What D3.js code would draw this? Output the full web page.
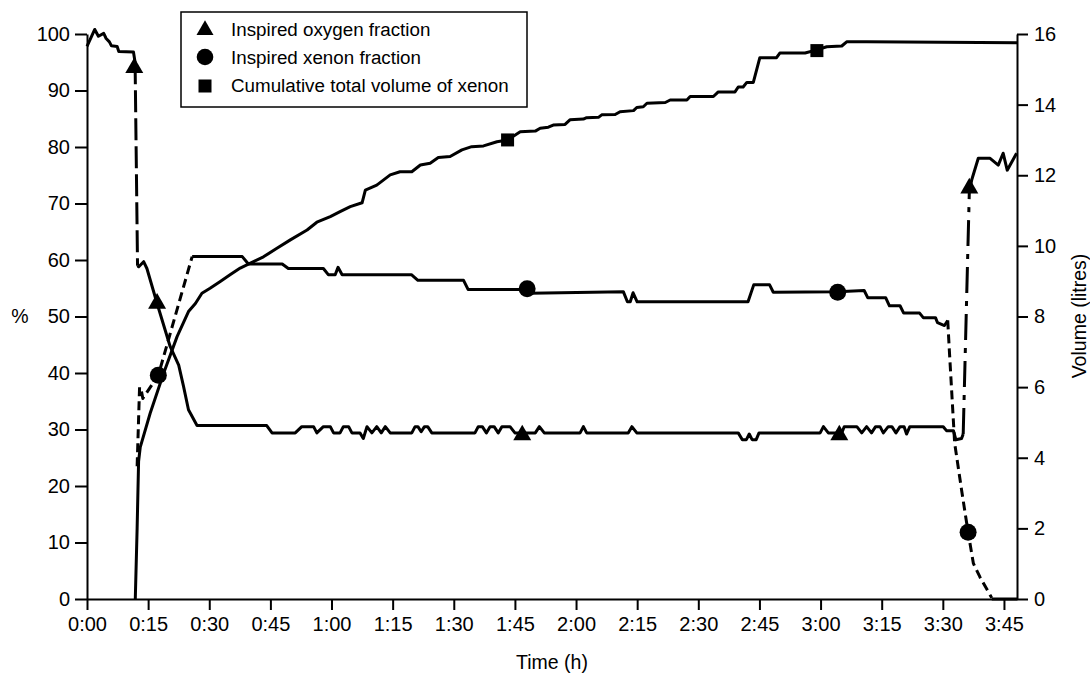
<!DOCTYPE html>
<html>
<head>
<meta charset="utf-8">
<script src="https://cdn.jsdelivr.net/npm/d3@7"></script>
<style>
  body { margin: 0; background: #fff; }
  svg text { font-family: "Liberation Sans", Arial, Helvetica, sans-serif; fill: #000; }
</style>
</head>
<body>
<svg id="chart"></svg>
<script>
// Eje de tiempo (minutos)
const timeTicks = [0, 15, 30, 45, 60, 75, 90, 105, 120, 135, 150, 165, 180, 195, 210, 225];
const percentTicks = [0, 10, 20, 30, 40, 50, 60, 70, 80, 90, 100];
const volumeTicks = [0, 2, 4, 6, 8, 10, 12, 14, 16];

// Fracción inspirada de oxígeno (%), por tramos [minuto, %]
const oxygenStart = [[0, 97.8], [1.9, 100.8], [2.8, 99.6], [4.1, 100.1], [4.7, 99.2], [5.5, 98.6], [6, 97.9],
  [7.4, 97.8], [7.8, 96.9], [11.4, 96.8], [11.8, 95]];
const oxygenDrop = [[11.8, 95], [12.4, 59]];
const oxygenMain = [[12.4, 59], [12.7, 58.8], [13.9, 59.7], [14.7, 58.5], [17.2, 52.3], [20.4, 44.7], [22.5, 41.4],
  [23.7, 37.6], [24.9, 33.5], [27, 30.7], [44.1, 30.7], [45.4, 29.4], [51.1, 29.4], [52.7, 30.5], [55.6, 30.5],
  [56.4, 29.4], [58, 30.5], [59.7, 30.5], [60.5, 29.4], [62.1, 29.4], [62.9, 30.5], [64.2, 30.5], [65, 29.4],
  [67, 29.4], [67.8, 28.4], [68.7, 30.5], [69.9, 29.4], [71.1, 30.5], [72.2, 29.4], [73.2, 30.5], [74.4, 29.4],
  [79.7, 29.4], [80.5, 30.5], [81.2, 30.5], [82, 29.6], [82.8, 30.5], [83.6, 30.5], [84.6, 29.4], [95.2, 29.4],
  [96, 30.5], [97, 30.5], [98, 29.4], [98.9, 30.5], [99.9, 30.5], [100.9, 29.4], [101.8, 30.5], [103.8, 30.5],
  [105, 29.4], [110, 29.4], [111, 30.5], [112.2, 29.4], [121, 29.4], [121.8, 30.5], [122.6, 29.4], [132.8, 29.4],
  [133.7, 30.5], [134.9, 29.4], [159.8, 29.4], [160.8, 28.2], [161.8, 28.2], [162.5, 29.2], [163.2, 28.2],
  [164.2, 28.2], [164.9, 29.4], [179.9, 29.4], [180.7, 30.5], [181.9, 29.4], [185.2, 29.4], [185.8, 30.5],
  [188.9, 30.5], [190.1, 29.4], [191.3, 30.5], [192.5, 29.4], [193.5, 30.5], [194.6, 30.5], [195.4, 29.4],
  [196.6, 30.5], [197.5, 30.5], [198.5, 29.4], [199.5, 30.5], [200.5, 30.5], [201.1, 29.2], [201.9, 30.5],
  [210.1, 30.5], [210.9, 29.8], [212.6, 29.8], [213.2, 28.2], [214.6, 28.4], [215, 29.2]];
const oxygenRise = [[215, 29.2], [216.5, 72]];
const oxygenEnd = [[216.5, 72], [217.1, 74.2], [218.7, 78], [221.6, 78], [223.6, 76.8], [224.8, 78.9],
  [225.8, 75.9], [228.1, 78.9]];
const oxygenMarkers = [[11.6, 94], [17.2, 52.3], [106.8, 29], [184.6, 29], [216.5, 72.7]];

// Fracción inspirada de xenón (%)
const xenonRise = [[12.3, 23.5], [12.9, 37.5], [13.3, 37], [13.7, 35.5], [17.5, 39.6], [25.8, 60.6]];
const xenonMain = [[25.8, 60.6], [38.1, 60.6], [39.6, 59.3], [47.9, 59.3], [49.4, 58.5], [58, 58.5], [59.2, 57.4],
  [60.9, 57.4], [61.6, 58.7], [62.6, 57.4], [79.6, 57.4], [81.2, 56.4], [92.4, 56.4], [93.5, 54.8], [107.9, 54.8],
  [108.7, 54.1], [131.6, 54.4], [132.6, 52.6], [133.3, 52.6], [134, 54.2], [135, 52.6], [162.2, 52.6],
  [163.6, 55.6], [167.5, 55.6], [168.4, 54.3], [184.2, 54.4], [190.7, 54.6], [191.6, 53.3], [196, 53.3],
  [196.9, 51.9], [199.5, 51.9], [200.4, 50.6], [204.3, 50.6], [205.2, 49.8], [208.2, 49.8], [208.7, 48.9],
  [210.4, 48.4], [211.2, 49.3]];
const xenonFall = [[211.2, 49.3], [211.6, 44], [212.9, 27.6], [214.6, 19.3], [216.2, 11.8], [217.5, 6.3],
  [219.1, 3.9], [222, 0.2]];
const xenonEnd = [[222, 0], [228.2, 0]];
const xenonMarkers = [[17.5, 39.6], [108, 54.9], [184.2, 54.3], [216.2, 11.8]];

// Volumen total acumulado de xenón (litros)
const volumeLine = [[11.85, 0], [12.3, 2.0], [12.66, 3.9], [13.07, 4.3], [15.5, 5.26], [18.8, 6.39], [22.1, 7.43],
  [24.9, 8.14], [26.6, 8.37], [28.2, 8.66], [30.2, 8.8], [32.7, 8.99], [35.1, 9.18], [37.6, 9.37], [40.1, 9.51],
  [43.3, 9.69], [46.6, 9.93], [49.9, 10.17], [54, 10.45], [56.4, 10.67], [59.7, 10.83], [62.1, 10.97],
  [64.6, 11.11], [67.5, 11.22], [68.3, 11.58], [71.1, 11.72], [74.4, 12.01], [76.8, 12.1], [79.7, 12.1],
  [81.8, 12.29], [84.2, 12.34], [86.2, 12.5], [89.1, 12.53], [92, 12.72], [94.4, 12.81], [97.3, 12.83],
  [100.6, 12.95], [103.2, 13.0], [106.3, 13.23], [110, 13.25], [111.2, 13.33], [113.2, 13.36], [114.4, 13.42],
  [117.3, 13.44], [118.5, 13.57], [121.8, 13.59], [122.6, 13.63], [125.5, 13.64], [126.3, 13.71], [129.6, 13.72],
  [130.8, 13.8], [134.1, 13.83], [134.9, 13.92], [136.5, 13.94], [137.4, 14.04], [141.9, 14.06], [143.1, 14.13],
  [147.2, 14.13], [148, 14.23], [153.7, 14.23], [154.9, 14.36], [159, 14.36], [159.8, 14.5], [161, 14.5],
  [161.9, 14.63], [163.5, 14.63], [165.1, 15.33], [169.2, 15.33], [170, 15.46], [176.2, 15.46], [179.1, 15.55],
  [181.5, 15.64], [185.2, 15.66], [186.4, 15.78], [191.3, 15.78], [228.2, 15.75]];
const volumeMarkers = [[103.2, 13.0], [179.1, 15.53]];

const legendLabels = ["Inspired oxygen fraction", "Inspired xenon fraction", "Cumulative total volume of xenon"];

// Dimensiones
const width = 1090;
const height = 673;
const margin = { top: 34, right: 73, bottom: 74, left: 87 };

const svg = d3.select("#chart")
    .attr("width", width)
    .attr("height", height);

const x = d3.scaleLinear().domain([0, 228.2]).range([margin.left, width - margin.right]);
const yPct = d3.scaleLinear().domain([0, 100]).range([height - margin.bottom, margin.top]);
const yVol = d3.scaleLinear().domain([0, 16]).range([height - margin.bottom, margin.top]);

const fmtTime = d => Math.floor(d / 60) + ":" + String(d % 60).padStart(2, "0");

// Ejes
function styleAxis(g) {
    g.selectAll("path, line").attr("stroke", "#000").attr("stroke-width", 2);
    g.selectAll("text").attr("font-size", 20).attr("fill", "#000")
        .attr("font-family", "'Liberation Sans', Arial, sans-serif");
}

svg.append("g")
    .attr("transform", `translate(0,${height - margin.bottom})`)
    .call(d3.axisBottom(x).tickValues(timeTicks).tickFormat(fmtTime).tickSize(11).tickSizeOuter(0).tickPadding(7))
    .call(styleAxis);

svg.append("g")
    .attr("transform", `translate(${margin.left},0)`)
    .call(d3.axisLeft(yPct).tickValues(percentTicks).tickSize(12).tickSizeOuter(0).tickPadding(5))
    .call(styleAxis);

svg.append("g")
    .attr("transform", `translate(${width - margin.right},0)`)
    .call(d3.axisRight(yVol).tickValues(volumeTicks).tickSize(11).tickSizeOuter(0).tickPadding(6))
    .call(styleAxis);

// Títulos de ejes
svg.append("text")
    .attr("x", (x.range()[0] + x.range()[1]) / 2)
    .attr("y", 669)
    .attr("text-anchor", "middle")
    .attr("font-size", 19.5)
    .text("Time (h)");

svg.append("text")
    .attr("x", 20)
    .attr("y", 323)
    .attr("text-anchor", "middle")
    .attr("font-size", 19.5)
    .text("%");

svg.append("text")
    .attr("transform", "translate(1086,316) rotate(-90)")
    .attr("text-anchor", "middle")
    .attr("font-size", 19.5)
    .text("Volume (litres)");

// Líneas
const linePct = d3.line().x(d => x(d[0])).y(d => yPct(d[1]));
const lineVol = d3.line().x(d => x(d[0])).y(d => yVol(d[1]));

const segments = [
    { data: oxygenStart, line: linePct, dash: null },
    { data: oxygenDrop, line: linePct, dash: "22,6" },
    { data: oxygenMain, line: linePct, dash: null },
    { data: oxygenRise, line: linePct, dash: "26,8,5,8" },
    { data: oxygenEnd, line: linePct, dash: null },
    { data: xenonRise, line: linePct, dash: "9,5" },
    { data: xenonMain, line: linePct, dash: null },
    { data: xenonFall, line: linePct, dash: "9,5" },
    { data: xenonEnd, line: linePct, dash: null },
    { data: volumeLine, line: lineVol, dash: null }
];

svg.append("g").selectAll("path")
    .data(segments)
    .enter().append("path")
    .attr("d", d => d.line(d.data))
    .attr("fill", "none")
    .attr("stroke", "#000")
    .attr("stroke-width", 3)
    .attr("stroke-linejoin", "round")
    .attr("stroke-dasharray", d => d.dash);

// Marcadores
const triangle = d3.symbol().type(d3.symbolTriangle).size(140);

svg.append("g").selectAll("path")
    .data(oxygenMarkers)
    .enter().append("path")
    .attr("d", triangle)
    .attr("transform", d => `translate(${x(d[0])},${yPct(d[1])})`)
    .attr("fill", "#000");

svg.append("g").selectAll("circle")
    .data(xenonMarkers)
    .enter().append("circle")
    .attr("cx", d => x(d[0]))
    .attr("cy", d => yPct(d[1]))
    .attr("r", 8.5)
    .attr("fill", "#000");

svg.append("g").selectAll("rect")
    .data(volumeMarkers)
    .enter().append("rect")
    .attr("x", d => x(d[0]) - 6.5)
    .attr("y", d => yVol(d[1]) - 6.5)
    .attr("width", 13)
    .attr("height", 13)
    .attr("fill", "#000");

// Leyenda
const legend = svg.append("g").attr("transform", "translate(181,12)");

legend.append("rect")
    .attr("width", 346)
    .attr("height", 95)
    .attr("fill", "white")
    .attr("stroke", "#000")
    .attr("stroke-width", 1.5);

legend.append("path")
    .attr("d", d3.symbol().type(d3.symbolTriangle).size(125))
    .attr("transform", "translate(24,18)");
legend.append("circle").attr("cx", 24).attr("cy", 45).attr("r", 8.3);
legend.append("rect").attr("x", 17.5).attr("y", 67.5).attr("width", 13).attr("height", 13);

legend.selectAll("text")
    .data(legendLabels)
    .enter().append("text")
    .attr("x", 50)
    .attr("y", (d, i) => 24 + i * 28)
    .attr("font-size", 18.8)
    .text(d => d);
</script>
</body>
</html>
